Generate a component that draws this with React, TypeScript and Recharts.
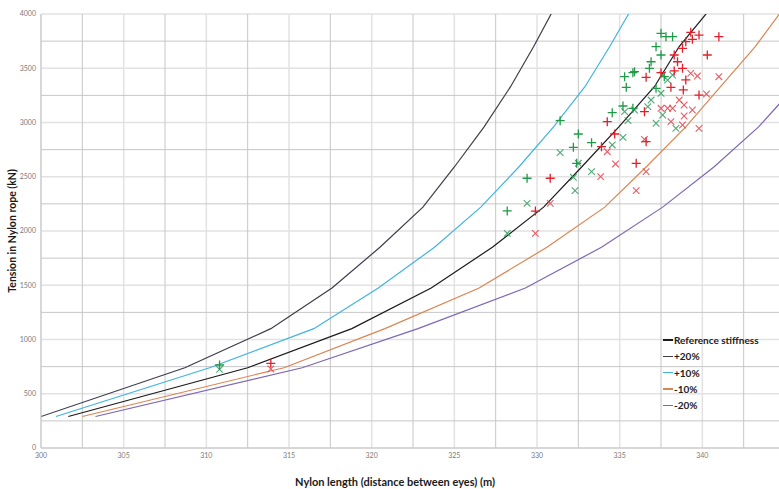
import { ComposedChart, Line, Scatter, XAxis, YAxis, CartesianGrid, ReferenceLine } from 'recharts'

// axis ticks (major labelled, minor grid only)
const X_TICKS = [300, 305, 310, 315, 320, 325, 330, 335, 340]
const X_MINOR = [302.5, 307.5, 312.5, 317.5, 322.5, 327.5, 332.5, 337.5, 342.5]
const Y_TICKS = [0, 500, 1000, 1500, 2000, 2500, 3000, 3500, 4000]
const Y_MINOR = [250, 750, 1250, 1750, 2250, 2750, 3250, 3750]

// stiffness curves: tension (kN) vs nylon length (m)
const curveTension = [290, 740, 1100, 1475, 1850, 2220, 2590, 2960, 3330, 3700, 4070]
const refLength = [301.65, 312.5, 318.8, 323.6, 327.3, 330.4, 332.7, 334.95, 337.1, 338.6, 340.6]
const plus20Length = [300, 308.7, 313.9, 317.6, 320.5, 323.1, 325.0, 326.8, 328.4, 329.8, 331.1]
const plus10Length = [300.9, 310.2, 316.5, 320.4, 323.8, 326.6, 328.9, 331.0, 332.9, 334.4, 335.8]
const minus10Length = [302.5, 314.7, 320.8, 326.5, 330.6, 334.1, 336.6, 339.0, 341.1, 343.2, 345.0]
const minus20Length = [303.3, 315.8, 322.8, 329.3, 333.9, 337.6, 340.7, 343.4, 345.6, 347.6, 349.4]

// measured points
const greenPlusX = [310.8, 328.2, 329.4, 331.4, 332.2, 332.4, 332.5, 333.3, 334.55, 335.2, 335.8, 335.3, 335.4, 335.8, 335.9, 336.8, 336.9, 337.2, 337.5, 337.5, 337.8, 338.2, 337.7, 337.2]
const greenPlusY = [765, 2185, 2486, 3017, 2771, 2624, 2894, 2814, 3091, 3152, 3131, 3422, 3324, 3459, 3468, 3499, 3560, 3699, 3622, 3822, 3791, 3791, 3422, 3315]
const greenCrossX = [310.8, 328.2, 329.4, 331.4, 332.2, 332.3, 332.5, 333.3, 334.55, 335.2, 335.3, 335.5, 335.9, 336.7, 336.9, 337.2, 337.5, 337.6, 337.6, 338.2, 338.4, 337.9]
const greenCrossY = [725, 1978, 2255, 2722, 2495, 2372, 2624, 2547, 2793, 2863, 3100, 3017, 3115, 3146, 3207, 2993, 3269, 3069, 3438, 3438, 2946, 3390]
const redPlusX = [313.9, 329.9, 330.8, 333.9, 334.25, 334.7, 336.0, 336.5, 336.6, 336.6, 337.5, 338.1, 338.3, 338.3, 338.5, 338.8, 338.8, 338.85, 339.0, 339.0, 339.3, 339.4, 339.8, 339.8, 340.3, 341.0]
const redPlusY = [780, 2184, 2486, 2777, 3008, 2894, 2624, 3100, 2823, 3416, 3459, 3324, 3622, 3475, 3560, 3684, 3499, 3300, 3745, 3392, 3831, 3767, 3806, 3253, 3622, 3791]
const redCrossX = [313.9, 329.9, 330.8, 333.85, 334.25, 334.75, 336.0, 336.5, 336.6, 337.5, 337.9, 338.2, 338.1, 338.6, 338.8, 338.9, 338.9, 339.3, 339.4, 339.7, 339.8, 340.25, 341.0]
const redCrossY = [728, 1978, 2255, 2501, 2731, 2618, 2372, 2845, 2547, 3131, 3131, 3131, 3008, 3207, 2977, 3161, 3060, 3453, 3115, 3428, 2946, 3263, 3422]

const curves = [
  { name: 'Reference stiffness', lengths: refLength, color: '#1a1a1a' },
  { name: '+20%', lengths: plus20Length, color: '#3d3d4a' },
  { name: '+10%', lengths: plus10Length, color: '#3fb4e0' },
  { name: '-10%', lengths: minus10Length, color: '#dc8450' },
  { name: '-20%', lengths: minus20Length, color: '#7d66b5' },
]

const toPoints = (xs: number[], ys: number[]) => xs.map((x, i) => ({ x, y: ys[i] }))

const font = 'Lato, "Open Sans", sans-serif'

const PlusMark = (props: any) => {
  const { cx, cy, fill } = props
  if (cx == null || cy == null) return null
  return <path d={`M${cx - 4.5},${cy}H${cx + 4.5}M${cx},${cy - 4.5}V${cy + 4.5}`} stroke={fill} strokeWidth={1.3} fill="none" />
}

const CrossMark = (props: any) => {
  const { cx, cy, fill } = props
  if (cx == null || cy == null) return null
  const r = 3.3
  return <path d={`M${cx - r},${cy - r}L${cx + r},${cy + r}M${cx - r},${cy + r}L${cx + r},${cy - r}`} stroke={fill} strokeWidth={1.1} fill="none" opacity={0.85} />
}

function LegendBox() {
  return (
    <div style={{ position: 'absolute', left: 663, top: 332, fontFamily: font, fontWeight: 700, fontSize: 10, color: '#222', lineHeight: '16.3px' }}>
      {curves.map((c) => (
        <div key={c.name} style={{ display: 'flex', alignItems: 'center', whiteSpace: 'nowrap' }}>
          <span style={{ display: 'inline-block', width: 10, height: 1.5, background: c.color, marginRight: 1 }} />
          <span>{c.name}</span>
        </div>
      ))}
    </div>
  )
}

export default function App() {
  return (
    <div style={{ position: 'fixed', left: 0, top: 0, width: 779, height: 489, overflow: 'hidden', background: '#fff' }}>
      <ComposedChart width={785} height={489} margin={{ top: 14, right: 0, bottom: 0, left: 0 }}>
        <CartesianGrid stroke="#e2e2e2" strokeWidth={1.5} />
        {X_MINOR.map((v) => (
          <ReferenceLine key={`vx${v}`} x={v} stroke="#c6c6c6" strokeWidth={1} />
        ))}
        {Y_MINOR.map((v) => (
          <ReferenceLine key={`hy${v}`} y={v} stroke="#c6c6c6" strokeWidth={1} />
        ))}
        <XAxis
          type="number"
          dataKey="x"
          domain={[300, 345]}
          ticks={X_TICKS}
          allowDataOverflow
          height={41}
          tickLine={false}
          tickSize={3}
          axisLine={{ stroke: '#c6c6c6' }}
          tick={{ fill: '#7a7a7a', fontSize: 7, fontFamily: font }}
          label={{ value: 'Nylon length (distance between eyes) (m)', position: 'insideBottom', offset: 3, dx: -18, style: { fill: '#1a1a1a', fontSize: 11, fontWeight: 700, fontFamily: font } }}
        />
        <YAxis
          type="number"
          dataKey="y"
          domain={[0, 4000]}
          ticks={Y_TICKS}
          allowDataOverflow
          width={41}
          tickLine={false}
          tickSize={3}
          axisLine={{ stroke: '#c6c6c6' }}
          tick={{ fill: '#7a7a7a', fontSize: 7, fontFamily: font }}
          label={{ value: 'Tension in Nylon rope (kN)', angle: -90, position: 'insideLeft', offset: 12, style: { textAnchor: 'middle', fill: '#1a1a1a', fontSize: 10.5, fontWeight: 700, fontFamily: font } }}
        />
        {curves.map((c) => (
          <Line
            key={c.name}
            data={toPoints(c.lengths, curveTension)}
            dataKey="y"
            name={c.name}
            type="linear"
            stroke={c.color}
            strokeWidth={1.2}
            dot={false}
            activeDot={false}
            isAnimationActive={false}
          />
        ))}
        <Scatter data={toPoints(greenCrossX, greenCrossY)} fill="#2f9a5c" shape={CrossMark} isAnimationActive={false} />
        <Scatter data={toPoints(redCrossX, redCrossY)} fill="#e8404a" shape={CrossMark} isAnimationActive={false} />
        <Scatter data={toPoints(greenPlusX, greenPlusY)} fill="#1f9a48" shape={PlusMark} isAnimationActive={false} />
        <Scatter data={toPoints(redPlusX, redPlusY)} fill="#e41e2a" shape={PlusMark} isAnimationActive={false} />
      </ComposedChart>
      <LegendBox />
    </div>
  )
}
